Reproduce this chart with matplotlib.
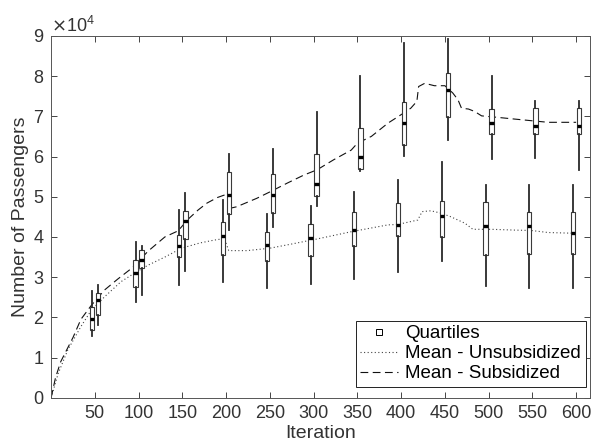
import numpy as np
import matplotlib
matplotlib.use("Agg")
import matplotlib.pyplot as plt
from matplotlib.ticker import ScalarFormatter
from matplotlib.lines import Line2D

plt.rcParams["font.family"] = ["Liberation Sans", "DejaVu Sans"]

# box positions (iteration)
iters = np.array([50, 100, 150, 200, 250, 300, 350, 400, 450, 500, 550, 600])

# quartile stats, in units of 1e4 passengers
# columns: whisker low, q1, median, q3, whisker high
unsub_box = np.array([
    [1.54, 1.68, 1.96, 2.26, 2.66],
    [2.38, 2.76, 3.10, 3.43, 3.88],
    [2.80, 3.49, 3.77, 4.04, 4.67],
    [2.89, 3.55, 4.03, 4.37, 4.92],
    [2.72, 3.39, 3.80, 4.13, 4.57],
    [2.83, 3.53, 3.98, 4.33, 4.78],
    [2.96, 3.77, 4.18, 4.61, 5.11],
    [3.12, 4.02, 4.30, 4.84, 5.41],
    [3.41, 4.00, 4.51, 4.90, 5.86],
    [2.78, 3.55, 4.26, 4.88, 5.29],
    [2.73, 3.57, 4.26, 4.61, 5.28],
    [2.73, 3.57, 4.09, 4.61, 5.28],
])
sub_box = np.array([
    [1.80, 2.05, 2.43, 2.60, 2.80],
    [2.56, 3.22, 3.43, 3.68, 3.78],
    [3.15, 3.94, 4.40, 4.65, 5.10],
    [4.17, 4.56, 5.04, 5.61, 6.06],
    [4.24, 4.59, 5.04, 5.57, 6.19],
    [4.78, 5.02, 5.32, 6.07, 7.10],
    [5.64, 5.69, 5.99, 6.72, 7.99],
    [6.02, 6.29, 6.84, 7.36, 8.82],
    [6.41, 6.98, 7.66, 8.07, 8.92],
    [5.93, 6.56, 6.84, 7.19, 8.01],
    [5.96, 6.56, 6.75, 7.20, 7.38],
    [5.67, 6.56, 6.75, 7.20, 7.38],
])

# mean curves (iteration, value in 1e4)
unsub_x = [0, 8, 19, 34, 46, 61, 80, 99, 111, 130, 149, 170, 186, 198, 203,
           224, 250, 274, 304, 343, 385, 396, 419, 424, 434, 446, 457, 473,
           482, 503, 530, 549, 568, 600]
unsub_y = [0, 0.6, 1.19, 1.77, 2.18, 2.51, 2.89, 3.15, 3.30, 3.50, 3.72, 3.85,
           3.92, 3.96, 3.66, 3.66, 3.72, 3.82, 3.95, 4.13, 4.30, 4.31, 4.42,
           4.63, 4.65, 4.59, 4.50, 4.34, 4.19, 4.19, 4.17, 4.16, 4.11, 4.09]

sub_x = [0, 5, 11, 25, 34, 46, 61, 76, 92, 111, 130, 145, 157, 168, 178, 190,
         203, 206, 212, 235, 251, 270, 289, 304, 323, 343, 350, 366, 385, 400,
         411, 418, 420, 427, 438, 450, 459, 465, 469, 477, 484, 492, 507, 530,
         549, 568, 600]
sub_y = [0, 0.5, 0.9, 1.5, 1.95, 2.3, 2.68, 2.95, 3.22, 3.65, 4.0, 4.15, 4.45,
         4.67, 4.84, 4.98, 5.08, 4.72, 4.75, 4.96, 5.13, 5.34, 5.54, 5.67,
         5.92, 6.16, 6.33, 6.50, 6.83, 7.04, 7.2, 7.37, 7.74, 7.82, 7.76,
         7.76, 7.58, 7.41, 7.2, 7.18, 7.12, 7.01, 6.98, 6.93, 6.89, 6.85, 6.85]

scale = 1e4

fig = plt.figure(figsize=(5.91, 4.48), dpi=100)
ax = fig.add_axes([0.0865, 0.112, 0.912, 0.808])

ax.plot(np.array(unsub_x), np.array(unsub_y) * scale, linestyle=(0, (1, 2.2)),
        color="#444444", linewidth=0.8, zorder=2)
ax.plot(np.array(sub_x), np.array(sub_y) * scale, linestyle=(0, (7, 4)),
        color="#111111", linewidth=0.8, zorder=2)


def stats(rows):
    out = []
    for r in rows:
        out.append(dict(whislo=r[0] * scale, q1=r[1] * scale, med=r[2] * scale,
                        q3=r[3] * scale, whishi=r[4] * scale, fliers=[]))
    return out


props = dict(
    widths=5, patch_artist=True, showcaps=False, showfliers=False,
    manage_ticks=False,
    boxprops=dict(facecolor="white", edgecolor="#3a3a3a", linewidth=0.8),
    whiskerprops=dict(color="#2a2a2a", linewidth=1.3),
    medianprops=dict(color="black", linewidth=2.4, solid_capstyle="butt"),
    zorder=3,
)
ax.bxp(stats(unsub_box), positions=iters - 3.5, **props)
ax.bxp(stats(sub_box), positions=iters + 3.5, **props)

ax.set_xlim(0, 616)
ax.set_ylim(0, 9e4)
ax.set_xticks(iters)
ax.set_xticklabels([str(i) for i in iters])
ax.set_yticks(np.arange(0, 10) * 1e4)
fmt = ScalarFormatter(useMathText=True)
fmt.set_powerlimits((0, 0))
ax.yaxis.set_major_formatter(fmt)
ax.yaxis.get_offset_text().set_fontsize(13)
ax.yaxis.get_offset_text().set_color("#333333")

ax.tick_params(direction="in", length=4, width=0.6, top=True, right=True,
               labelsize=13, colors="#262626", labelcolor="#333333", pad=5)
for s in ax.spines.values():
    s.set_color("#555555")
    s.set_linewidth(0.7)

ax.set_xlabel("Iteration", fontsize=14, color="#333333", labelpad=2)
ax.set_ylabel("Number of Passengers", fontsize=14, color="#333333", labelpad=3)

handles = [
    Line2D([], [], linestyle="none", marker="s", markersize=4,
           markerfacecolor="white", markeredgecolor="black", markeredgewidth=0.7),
    Line2D([], [], linestyle=(0, (1, 2.2)), color="#444444", linewidth=0.8),
    Line2D([], [], linestyle=(0, (7, 4)), color="#111111", linewidth=0.8),
]
leg = ax.legend(handles, ["Quartiles", "Mean - Unsubsidized", "Mean - Subsidized"],
                loc="lower right", bbox_to_anchor=(0.992, 0.03), fontsize=13.5,
                frameon=True, fancybox=False, framealpha=1, edgecolor="#222222",
                handlelength=2.0, handletextpad=0.4, borderpad=0.25,
                labelspacing=0.15, borderaxespad=0)
leg.get_frame().set_linewidth(0.7)

fig.savefig("out.png", dpi=100)
